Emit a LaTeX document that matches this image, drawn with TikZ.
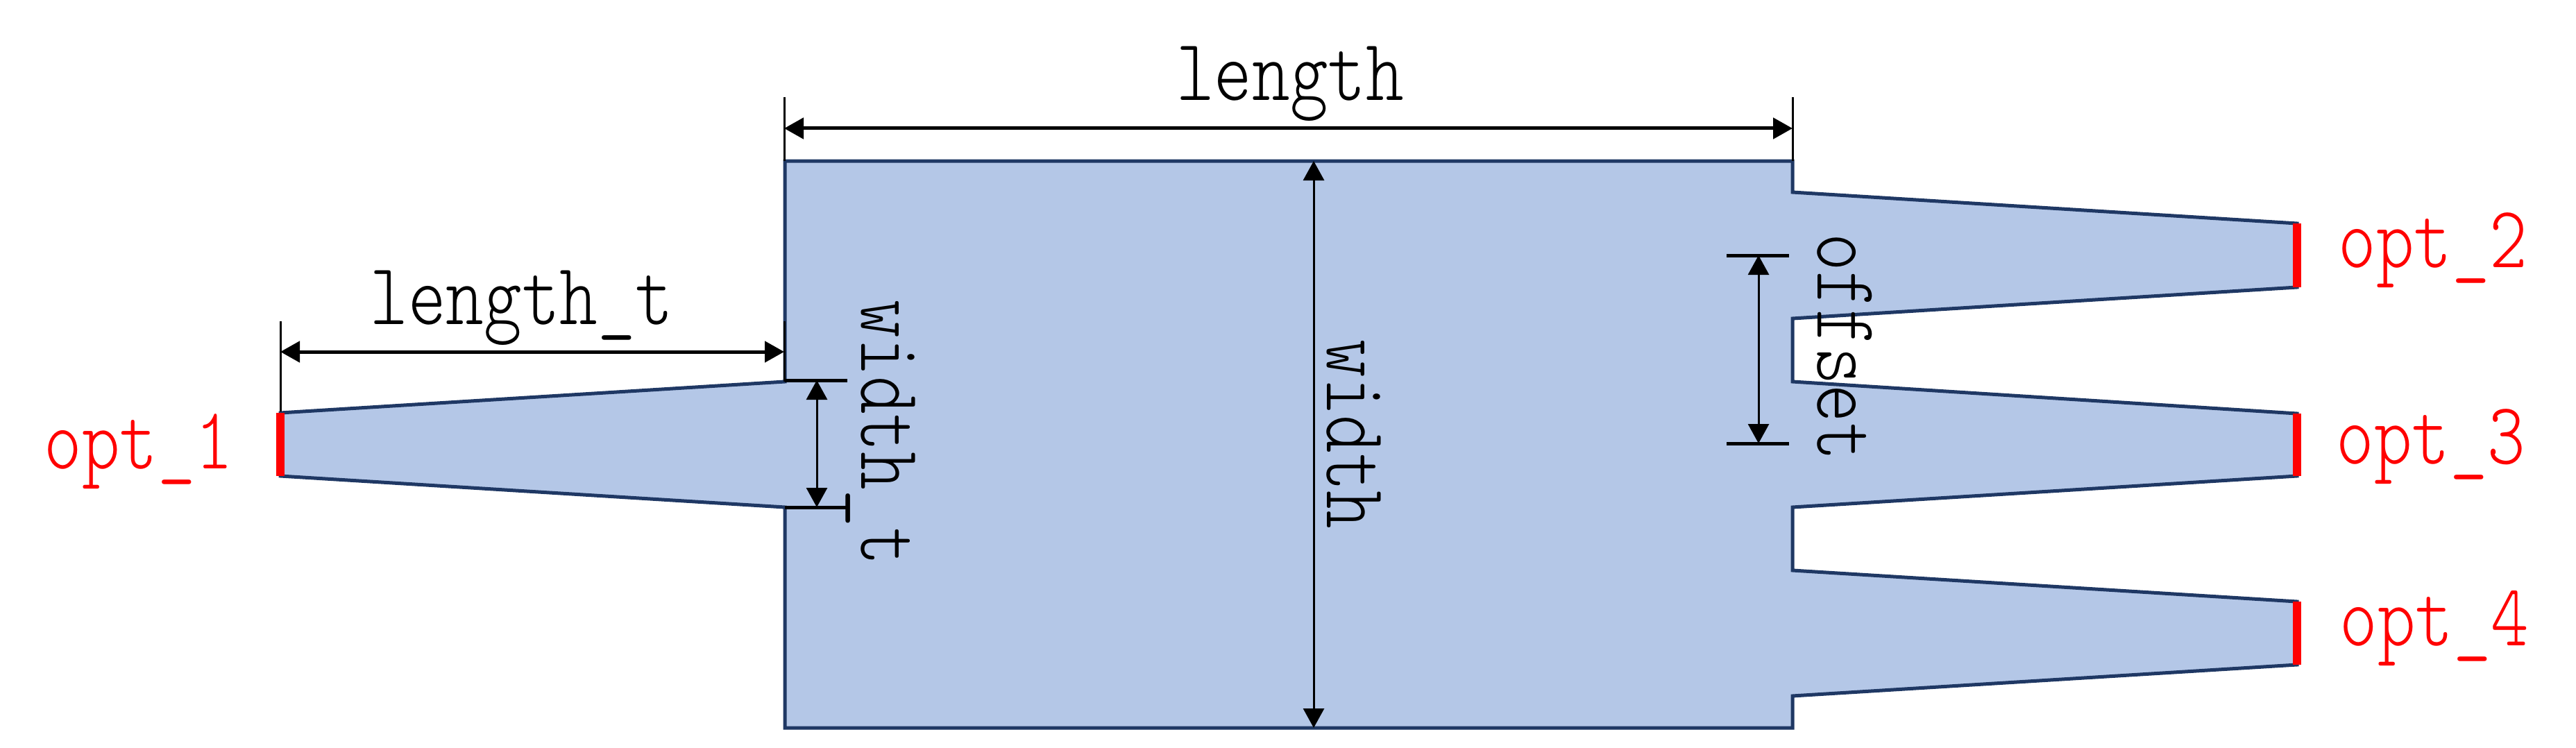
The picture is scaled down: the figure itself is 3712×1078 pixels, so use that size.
\documentclass[tikz,border=0pt]{standalone}
\usepackage{graphicx}
\usepackage{fontspec}
\setmonofont{Latin Modern Mono Light}
\usetikzlibrary{arrows.meta}
\definecolor{navy}{HTML}{1F3864}
\definecolor{wg}{HTML}{B4C7E7}
\newcommand{\lbl}[1]{\scalebox{1}[1.22]{\fontsize{104}{104}\selectfont\ttfamily #1}}
\tikzset{
  device/.style={draw=navy,fill=wg,line width=5pt,line join=miter},
  port/.style={draw=red,line width=12pt},
  extline/.style={draw=black,line width=3pt},
  tickline/.style={draw=black,line width=5pt},
  dimbold/.style={draw=black,line width=5pt,{Triangle[length=28pt,width=30pt]}-{Triangle[length=28pt,width=30pt]}},
  dimthin/.style={draw=black,line width=3pt,{Triangle[length=28pt,width=30pt]}-{Triangle[length=28pt,width=30pt]}},
  dimlabel/.style={inner sep=0pt,anchor=base,text=black},
  portlabel/.style={inner sep=0pt,anchor=base,text=red},
}
\begin{document}
\begin{tikzpicture}[x=1pt,y=-1pt]
\useasboundingbox (0,0) rectangle (3712,1078);
\path[device] (1131,232) -- (2583,232) -- (2583,277) -- (3310,322) -- (3310,414) -- (2583,459)
  -- (2583,550) -- (3310,596) -- (3310,686) -- (2583,731) -- (2583,822) -- (3310,867)
  -- (3310,958) -- (2583,1003) -- (2583,1049) -- (1131,1049) -- (1131,731) -- (404,686)
  -- (404,595) -- (1131,550) -- cycle;
% ports
\coordinate (p1a) at (404,595); \coordinate (p1b) at (404,686);
\coordinate (p2a) at (3310,322); \coordinate (p2b) at (3310,414);
\coordinate (p3a) at (3310,596); \coordinate (p3b) at (3310,686);
\coordinate (p4a) at (3310,867); \coordinate (p4b) at (3310,958);
\draw[port] (p1a) -- (p1b);
\draw[port] (p2a) -- (p2b);
\draw[port] (p3a) -- (p3b);
\draw[port] (p4a) -- (p4b);
% length
\coordinate (la) at (1130,140); \coordinate (lb) at (1130,232);
\coordinate (lc) at (2583,140); \coordinate (ld) at (2583,232);
\coordinate (le) at (1130,185); \coordinate (lf) at (2583,185);
\draw[extline] (la) -- (lb);
\draw[extline] (lc) -- (ld);
\draw[dimbold] (le) -- (lf);
% length_t
\coordinate (ta) at (404,463); \coordinate (tb) at (404,593);
\coordinate (tc) at (1130,463); \coordinate (td) at (1130,550);
\coordinate (te) at (404,507); \coordinate (tf) at (1130,507);
\draw[extline] (ta) -- (tb);
\draw[extline] (tc) -- (td);
\draw[dimbold] (te) -- (tf);
% width_t
\coordinate (wa) at (1131,548); \coordinate (wb) at (1221,548);
\coordinate (wc) at (1131,731); \coordinate (wd) at (1221,731);
\coordinate (we) at (1177,548); \coordinate (wf) at (1177,731);
\draw[tickline] (wa) -- (wb);
\draw[tickline] (wc) -- (wd);
\draw[dimthin] (we) -- (wf);
% width
\coordinate (ha) at (1893,232); \coordinate (hb) at (1893,1049);
\draw[dimthin] (ha) -- (hb);
% offset
\coordinate (oa) at (2488,368); \coordinate (ob) at (2578,368);
\coordinate (oc) at (2488,639); \coordinate (od) at (2578,639);
\coordinate (oe) at (2534,368); \coordinate (of) at (2534,639);
\draw[tickline] (oa) -- (ob);
\draw[tickline] (oc) -- (od);
\draw[dimthin] (oe) -- (of);
% labels
\node[dimlabel] (tlength) at (1859,145) {\lbl{length}};
\node[dimlabel] (tlengtht) at (752,467) {\lbl{length\_t}};
\node[dimlabel,rotate=-90] (twidtht) at (1241,624) {\lbl{width\_t}};
\node[dimlabel,rotate=-90] (twidth) at (1912,626) {\lbl{width}};
\node[dimlabel,rotate=-90] (toffset) at (2619,500) {\lbl{offset}};
\node[portlabel] (topt1) at (200,675) {\lbl{opt\_1}};
\node[portlabel] (topt2) at (3506,385) {\lbl{opt\_2}};
\node[portlabel] (topt3) at (3503,668) {\lbl{opt\_3}};
\node[portlabel] (topt4) at (3508,930) {\lbl{opt\_4}};
\end{tikzpicture}
\end{document}
